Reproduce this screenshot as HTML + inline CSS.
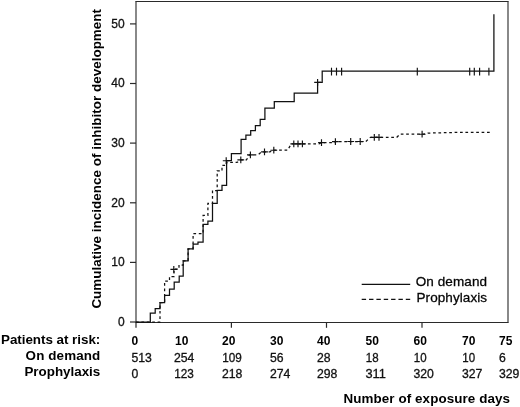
<!DOCTYPE html>
<html><head><meta charset="utf-8"><title>chart</title>
<style>
html,body{margin:0;padding:0;background:#fff;}
svg{display:block;font-family:"Liberation Sans",sans-serif;will-change:transform;}
.r{font-size:12px;fill:#111;}
.s{stroke:#111;stroke-width:0.3px;}
.b12{font-size:12px;font-weight:bold;fill:#000;}
.b{font-size:13.4px;font-weight:bold;fill:#000;}
.l{font-size:13.5px;fill:#000;}
</style></head><body>
<svg width="520" height="407" viewBox="0 0 520 407">
<rect width="520" height="407" fill="#fff"/>
<path d="M135.4,1.5H508.6M135.4,322.5H508.6" stroke="#2a2a2a" stroke-width="1.05" fill="none"/>
<path d="M136,1.5V322.5M508,1.5V322.5" stroke="#333" stroke-width="1.15" fill="none"/>
<g stroke="#2a2a2a" stroke-width="1.2" fill="none"><path d="M130,322H136"/><path d="M130,262.4H136"/><path d="M130,202.8H136"/><path d="M130,143.1H136"/><path d="M130,83.5H136"/><path d="M130,23.9H136"/><path d="M136,322V327.8"/><path d="M231.4,322V327.8"/><path d="M326.5,322V327.8"/><path d="M422,322V327.8"/></g>
<path d="M136,322 H150.3 V313.2 H155.2 V308.5 H160 V302.7 H164.6 V295.4 H169.5 V289.2 H174.2 V282.2 H179.2 V276 H183.2 V260.8 H188.1 V248.8 H193.1 V244.2 H198 V242.1 H203.1 V224.3 H207.9 V221 H212.5 V203.4 H217.2 V190.3 H222 V185.3 H226.6 V160.6 H231.4 V153.7 H241.1 V139.4 H245.9 V135 H250.7 V130.6 H255.4 V125.7 H260.2 V119.3 H264.9 V108 H274.3 V101.7 H294.2 V93.2 H317.6 V82.4 H322.2 V71 H493.9 V14.3" fill="none" stroke="#111" stroke-width="1.25"/>
<path d="M136,322 H160 V302.7 H164.6 V281 H169.5 V276.5 H174 V269.2 H179 V265 H183.2 V260.8 H188.1 V248.8 H193.1 V233.6 H203.1 V215.4 H207.9 V203.3 H212.5 V190.5 H217.2 V170.9 H222 V165.4 H226.6 V162.4 H237 L240.8,159.8 H246.5 L249.5,154.8 H258 L261.5,151.8 H270 L273.8,150.2 H287.6 L291.3,143.9 H319 L321.5,142.6 H335.4 V141.5 H365.8 L370.3,137.3 H396.8 L399.9,134.2 H424 L428,133.1 L460,132.3 H492" fill="none" stroke="#111" stroke-width="1.25" stroke-dasharray="2.7 2.7"/>
<g stroke="#111" stroke-width="1.15" fill="none"><path d="M314.2,82.4H321.0M317.6,79.0V85.8"/><path d="M170.4,269.3H177.2M173.8,265.9V272.7"/><path d="M222.8,160.7H229.6M226.2,157.3V164.1"/><path d="M237.4,159.8H244.2M240.8,156.4V163.2"/><path d="M247.0,154.8H253.8M250.4,151.4V158.2"/><path d="M261.1,151.8H267.9M264.5,148.4V155.2"/><path d="M270.4,150.2H277.2M273.8,146.8V153.6"/><path d="M290.4,143.9H297.2M293.8,140.5V147.3"/><path d="M294.6,143.9H301.4M298.0,140.5V147.3"/><path d="M299.0,143.9H305.8M302.4,140.5V147.3"/><path d="M318.1,142.6H324.9M321.5,139.2V146.0"/><path d="M332.0,141.6H338.8M335.4,138.2V145.0"/><path d="M347.3,141.5H354.1M350.7,138.1V144.9"/><path d="M356.8,141.5H363.6M360.2,138.1V144.9"/><path d="M370.9,137.3H377.7M374.3,133.9V140.7"/><path d="M375.6,137.3H382.4M379.0,133.9V140.7"/><path d="M418.7,134.2H425.5M422.1,130.8V137.6"/><path d="M331.5,67.69999999999999V75.5"/><path d="M336.5,67.69999999999999V75.5"/><path d="M341.6,67.69999999999999V75.5"/><path d="M417.3,67.69999999999999V75.5"/><path d="M469.7,67.69999999999999V75.5"/><path d="M474.3,67.69999999999999V75.5"/><path d="M479.6,67.69999999999999V75.5"/><path d="M488.9,67.69999999999999V75.5"/></g>
<text x="124.6" y="325.7" text-anchor="end" class="r s">0</text><text x="124.6" y="266.1" text-anchor="end" class="r s">10</text><text x="124.6" y="206.5" text-anchor="end" class="r s">20</text><text x="124.6" y="146.8" text-anchor="end" class="r s">30</text><text x="124.6" y="87.2" text-anchor="end" class="r s">40</text><text x="124.6" y="27.6" text-anchor="end" class="r s">50</text>
<text transform="translate(100.7,308.6) rotate(-90)" class="b" textLength="299.6">Cumulative incidence of inhibitor development</text>
<text x="1" y="344.3" class="b" textLength="99.3">Patients at risk:</text>
<text x="25.6" y="360.2" class="b" textLength="74.6">On demand</text>
<text x="100.3" y="376.3" text-anchor="end" class="b">Prophylaxis</text>
<text x="131.5" y="345.2" class="b12">0</text><text x="131.5" y="362" class="r s" textLength="20.4" lengthAdjust="spacingAndGlyphs">513</text><text x="131.5" y="378.3" class="r s" textLength="6.8" lengthAdjust="spacingAndGlyphs">0</text><text x="175.0" y="345.2" class="b12">10</text><text x="174" y="362" class="r s" textLength="20.4" lengthAdjust="spacingAndGlyphs">254</text><text x="174.3" y="378.3" class="r s" textLength="19.6" lengthAdjust="spacingAndGlyphs">123</text><text x="222" y="345.2" class="b12">20</text><text x="222.3" y="362" class="r s" textLength="19.6" lengthAdjust="spacingAndGlyphs">109</text><text x="222" y="378.3" class="r s" textLength="20.4" lengthAdjust="spacingAndGlyphs">218</text><text x="270" y="345.2" class="b12">30</text><text x="270" y="362" class="r s" textLength="13.6" lengthAdjust="spacingAndGlyphs">56</text><text x="270" y="378.3" class="r s" textLength="20.4" lengthAdjust="spacingAndGlyphs">274</text><text x="317" y="345.2" class="b12">40</text><text x="317" y="362" class="r s" textLength="13.6" lengthAdjust="spacingAndGlyphs">28</text><text x="317" y="378.3" class="r s" textLength="20.4" lengthAdjust="spacingAndGlyphs">298</text><text x="365.5" y="345.2" class="b12">50</text><text x="365.8" y="362" class="r s" textLength="12.8" lengthAdjust="spacingAndGlyphs">18</text><text x="365.5" y="378.3" class="r s" textLength="20.4" lengthAdjust="spacingAndGlyphs">311</text><text x="413.5" y="345.2" class="b12">60</text><text x="413.8" y="362" class="r s" textLength="12.8" lengthAdjust="spacingAndGlyphs">10</text><text x="413.5" y="378.3" class="r s" textLength="20.4" lengthAdjust="spacingAndGlyphs">320</text><text x="462" y="345.2" class="b12">70</text><text x="462.3" y="362" class="r s" textLength="12.8" lengthAdjust="spacingAndGlyphs">10</text><text x="462" y="378.3" class="r s" textLength="20.4" lengthAdjust="spacingAndGlyphs">327</text><text x="499" y="345.2" class="b12">75</text><text x="499" y="362" class="r s" textLength="6.8" lengthAdjust="spacingAndGlyphs">6</text><text x="499" y="378.3" class="r s" textLength="20.4" lengthAdjust="spacingAndGlyphs">329</text>
<text x="343.4" y="402.7" class="b" textLength="166.6">Number of exposure days</text>
<path d="M361.7,284.4H410.2" stroke="#111" stroke-width="1.25"/>
<path d="M361.7,299.3H410.2" stroke="#111" stroke-width="1.25" stroke-dasharray="4.4 2.95"/>
<text x="415.7" y="285.9" class="l s" textLength="71.3">On demand</text>
<text x="416.5" y="301.5" class="l s" textLength="70.6">Prophylaxis</text>
</svg>
</body></html>
